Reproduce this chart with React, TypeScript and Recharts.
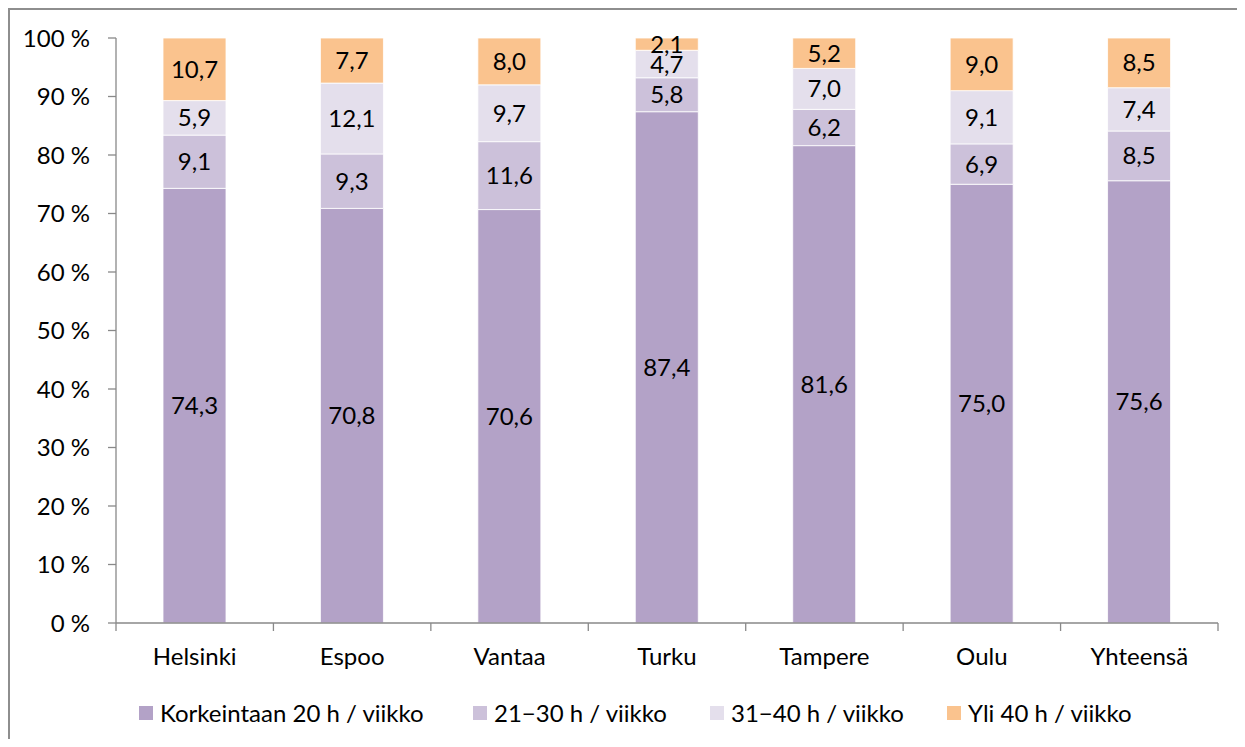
import React from 'react';
import { BarChart, Bar, XAxis, YAxis, Legend, LabelList } from 'recharts';

const cities = ['Helsinki', 'Espoo', 'Vantaa', 'Turku', 'Tampere', 'Oulu', 'Yhteensä'];
const upTo20 = [74.3, 70.8, 70.6, 87.4, 81.6, 75.0, 75.6];
const h21to30 = [9.1, 9.3, 11.6, 5.8, 6.2, 6.9, 8.5];
const h31to40 = [5.9, 12.1, 9.7, 4.7, 7.0, 9.1, 7.4];
const over40 = [10.7, 7.7, 8.0, 2.1, 5.2, 9.0, 8.5];
const seriesKeys = ['a', 'b', 'c', 'd'];
const seriesNames = ['Korkeintaan 20 h / viikko', '21−30 h / viikko', '31−40 h / viikko', 'Yli 40 h / viikko'];
const seriesColors = ['#B3A2C7', '#CCC1DA', '#E4DFEC', '#FAC38E'];
const yTickPercents = [0, 10, 20, 30, 40, 50, 60, 70, 80, 90, 100];

const data = cities.map((city, i) => ({
  city,
  a: upTo20[i],
  b: h21to30[i],
  c: h31to40[i],
  d: over40[i],
}));

const W = 1229;
const H = 731;
const MARGIN = { top: 30, right: 19, left: 8, bottom: 0 };
const Y_AXIS_W = 100;
const PLOT_W = W - MARGIN.left - Y_AXIS_W - MARGIN.right;
const AXIS = '#898989';
const FONT = 'Lato, "Open Sans", sans-serif';
const FS = 24;

const fmt = (v: any) => (typeof v === 'number' ? v.toFixed(1).replace('.', ',') : v);

const CityTick = (props: any) => {
  const { x, y, payload, index } = props;
  const band = PLOT_W / cities.length;
  const axisY = y - 8;
  return (
    <g>
      <line x1={x - band / 2} x2={x - band / 2} y1={axisY} y2={axisY + 8} stroke={AXIS} strokeWidth={1.3} />
      {index === cities.length - 1 && (
        <line x1={x + band / 2} x2={x + band / 2} y1={axisY} y2={axisY + 8} stroke={AXIS} strokeWidth={1.3} />
      )}
      <text x={x} y={y + 26} dy="0.35em" textAnchor="middle" fill="#000" fontSize={FS} fontFamily={FONT}>
        {payload.value}
      </text>
    </g>
  );
};

const itemWidths = [334, 237, 237, 260];

const LegendContent = () => (
  <div
    style={{
      display: 'flex',
      paddingLeft: 131,
      paddingTop: 18,
      height: 56,
      boxSizing: 'border-box',
      fontFamily: FONT,
      fontSize: FS,
      color: '#000',
    }}
  >
    {seriesNames.map((name, i) => (
      <div key={name} style={{ display: 'flex', alignItems: 'center', width: itemWidths[i], height: 24, whiteSpace: 'nowrap' }}>
        <span style={{ display: 'inline-block', width: 14, height: 14, background: seriesColors[i], marginRight: 7, flexShrink: 0 }} />
        <span style={{ lineHeight: '24px' }}>{name}</span>
      </div>
    ))}
  </div>
);

export default function App() {
  return (
    <div style={{ position: 'relative', width: W, height: H }}>
      <div
        style={{
          position: 'absolute',
          left: 0,
          top: 0,
          width: W,
          height: H,
          borderTop: '2px solid #8e8e8e',
          borderLeft: '2px solid #8e8e8e',
          boxSizing: 'border-box',
        }}
      />
      <BarChart width={W} height={H} data={data} margin={MARGIN} stackOffset="expand" barSize={63}>
        <XAxis
          dataKey="city"
          interval={0}
          height={60}
          tickSize={8}
          tickMargin={0}
          tickLine={false}
          axisLine={{ stroke: AXIS, strokeWidth: 1.3 }}
          tick={<CityTick />}
        />
        <YAxis
          width={Y_AXIS_W}
          domain={[0, 1]}
          ticks={yTickPercents.map((t) => t / 100)}
          tickFormatter={(v: number) => `${Math.round(v * 100)} %`}
          tickSize={8}
          tickMargin={18}
          axisLine={{ stroke: AXIS, strokeWidth: 1.3 }}
          tickLine={{ stroke: AXIS, strokeWidth: 1.3 }}
          tick={{ fill: '#000', fontSize: FS, fontFamily: FONT }}
        />
        <Legend
          verticalAlign="bottom"
          height={56}
          wrapperStyle={{ left: 0, width: W, height: 56, bottom: 0 }}
          content={<LegendContent />}
        />
        {seriesKeys.map((k, i) => (
          <Bar
            key={k}
            dataKey={k}
            name={seriesNames[i]}
            stackId="s"
            fill={seriesColors[i]}
            stroke="#ffffff"
            strokeWidth={0.8}
            isAnimationActive={false}
          >
            <LabelList
              dataKey={k}
              position="center"
              formatter={fmt}
              fill="#000"
              fontSize={FS}
              fontFamily={FONT}
            />
          </Bar>
        ))}
      </BarChart>
    </div>
  );
}
